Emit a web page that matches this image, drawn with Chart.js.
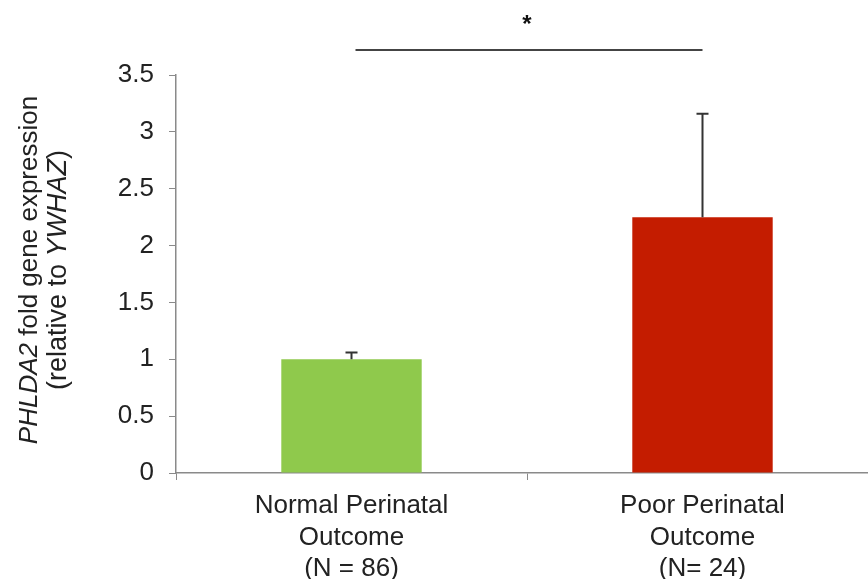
<!DOCTYPE html>
<html>
<head>
<meta charset="utf-8">
<title>PHLDA2 expression</title>
<script src="https://cdn.jsdelivr.net/npm/chart.js@4.4.1/dist/chart.umd.min.js"></script>
<style>
  html, body { margin: 0; padding: 0; background: #fff; overflow: hidden; }
  /* the x axis runs a little past the right edge of the picture */
  #chart-container { width: 878px; height: 579px; }
</style>
</head>
<body>
<div id="chart-container"><canvas id="chart"></canvas></div>
<script>
// Chart data
const categories = [
  ["Normal Perinatal", "Outcome", "(N = 86)"],
  ["Poor Perinatal", "Outcome", "(N= 24)"],
];
const means = [1.0, 2.25];
const errors = [0.06, 0.91];
const barColors = ["#8FC94C", "#C41C00"];
const yTicks = [0, 0.5, 1, 1.5, 2, 2.5, 3, 3.5];
const sigLevel = 3.72; // height of the significance bracket
const sigLabel = "*";

const FONT = "'Liberation Sans', Arial, sans-serif";
const TEXT_COLOR = "#222";
const AXIS_COLOR = "#8a8a8a";

// Draw error bars (upper half only) above each bar
const errorBars = {
  id: "errorBars",
  afterDatasetsDraw(chart) {
    const ctx = chart.ctx;
    const yScale = chart.scales.y;
    const meta = chart.getDatasetMeta(0);
    ctx.save();
    ctx.strokeStyle = "#333";
    ctx.lineWidth = 2;
    meta.data.forEach((bar, i) => {
      const yTop = yScale.getPixelForValue(means[i] + errors[i]);
      ctx.beginPath();
      ctx.moveTo(bar.x, bar.y);
      ctx.lineTo(bar.x, yTop);
      ctx.moveTo(bar.x - 6, yTop);
      ctx.lineTo(bar.x + 6, yTop);
      ctx.stroke();
    });
    ctx.restore();
  },
};

// Significance bracket and the y title with italic gene names
const annotations = {
  id: "annotations",
  afterDraw(chart) {
    const ctx = chart.ctx;
    const yScale = chart.scales.y;
    const meta = chart.getDatasetMeta(0);
    const x1 = meta.data[0].x;
    const x2 = meta.data[1].x;
    const y = yScale.getPixelForValue(sigLevel);

    ctx.save();
    ctx.strokeStyle = "#444";
    ctx.lineWidth = 2;
    ctx.beginPath();
    ctx.moveTo(x1 + 4, y);
    ctx.lineTo(x2, y);
    ctx.stroke();

    ctx.fillStyle = "#111";
    ctx.font = "bold 24px " + FONT;
    ctx.textAlign = "center";
    ctx.textBaseline = "alphabetic";
    ctx.fillText(sigLabel, (x1 + x2) / 2, y - 18);
    ctx.restore();

    // rotated y title, two lines, mixed italic
    const lines = [
      [["PHLDA2", true], [" fold gene expression", false]],
      [["(relative to ", false], ["YWHAZ", true], [")", false]],
    ];
    const sizes = [26, 27];
    const baselines = [37, 66];
    const cy = 270;
    ctx.save();
    ctx.fillStyle = TEXT_COLOR;
    ctx.textBaseline = "alphabetic";
    ctx.textAlign = "left";
    lines.forEach((parts, li) => {
      const fontOf = (it) => (it ? "italic " : "") + sizes[li] + "px " + FONT;
      let total = 0;
      parts.forEach(([t, it]) => {
        ctx.font = fontOf(it);
        total += ctx.measureText(t).width;
      });
      ctx.save();
      ctx.translate(baselines[li], cy);
      ctx.rotate(-Math.PI / 2);
      let x = -total / 2;
      parts.forEach(([t, it]) => {
        ctx.font = fontOf(it);
        ctx.fillText(t, x, 0);
        x += ctx.measureText(t).width;
      });
      ctx.restore();
    });
    ctx.restore();
  },
};

const ctx = document.getElementById("chart").getContext("2d");
new Chart(ctx, {
  type: "bar",
  data: {
    labels: categories,
    datasets: [
      {
        data: means,
        backgroundColor: barColors,
        borderWidth: 0,
        barPercentage: 0.4,
        categoryPercentage: 1.0,
      },
    ],
  },
  options: {
    responsive: true,
    maintainAspectRatio: false,
    animation: false,
    layout: { padding: { top: 75, right: 0, left: 0, bottom: 0 } },
    plugins: {
      legend: { display: false },
      tooltip: { enabled: false },
    },
    scales: {
      x: {
        grid: {
          drawOnChartArea: false,
          drawTicks: true,
          tickLength: 7,
          color: AXIS_COLOR,
        },
        border: { color: AXIS_COLOR, width: 1.5 },
        ticks: {
          color: TEXT_COLOR,
          font: { family: FONT, size: 26, lineHeight: 1.22 },
          padding: 10,
          maxRotation: 0,
        },
        afterFit: (scale) => {
          scale.height = 106;
        },
      },
      y: {
        min: 0,
        max: 3.5,
        afterBuildTicks: (scale) => {
          scale.ticks = yTicks.map((v) => ({ value: v }));
        },
        grid: {
          drawOnChartArea: false,
          drawTicks: true,
          tickLength: 7,
          color: AXIS_COLOR,
        },
        border: { color: AXIS_COLOR, width: 1.5 },
        ticks: {
          color: TEXT_COLOR,
          font: { family: FONT, size: 26 },
          padding: 15,
          callback: (value) => String(value),
        },
        afterFit: (scale) => {
          scale.width = 176;
        },
      },
    },
  },
  plugins: [errorBars, annotations],
});
</script>
</body>
</html>
